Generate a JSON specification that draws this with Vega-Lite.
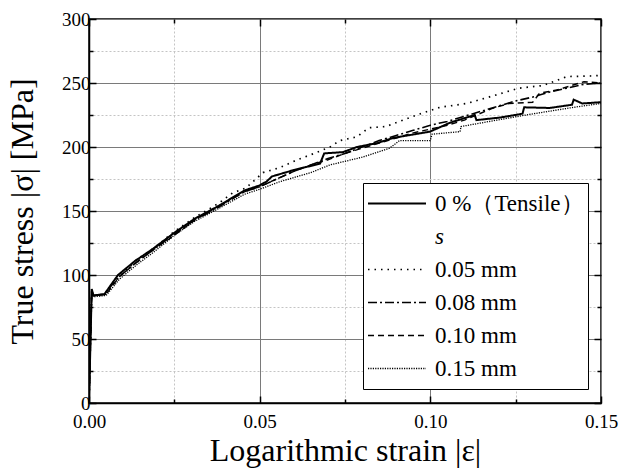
{
  "$schema": "https://vega.github.io/schema/vega-lite/v6.json",
  "autosize": "none",
  "width": 512,
  "height": 384,
  "padding": {"left": 89, "top": 19, "right": 32, "bottom": 67},
  "background": "white",
  "config": {
    "font": "Liberation Serif",
    "view": {"stroke": "black", "strokeWidth": 1.5},
    "axis": {"labelFont": "Liberation Serif", "titleFont": "Liberation Serif", "labelFontSize": 19, "titleFontSize": 32, "titleFontWeight": "normal", "labelColor": "black", "titleColor": "black", "domainColor": "black", "domainWidth": 1.5, "tickColor": "black", "tickWidth": 1.5},
    "legend": {"labelFont": "Liberation Serif"}
  },
  "data": {"values": [
    {"s": "0 %（Tensile）", "e": 0, "v": 0},
    {"s": "0 %（Tensile）", "e": 0.0008, "v": 89},
    {"s": "0 %（Tensile）", "e": 0.0013, "v": 84},
    {"s": "0 %（Tensile）", "e": 0.0045, "v": 85},
    {"s": "0 %（Tensile）", "e": 0.0085, "v": 100},
    {"s": "0 %（Tensile）", "e": 0.0135, "v": 111},
    {"s": "0 %（Tensile）", "e": 0.0185, "v": 120},
    {"s": "0 %（Tensile）", "e": 0.025, "v": 133},
    {"s": "0 %（Tensile）", "e": 0.031, "v": 144},
    {"s": "0 %（Tensile）", "e": 0.038, "v": 154},
    {"s": "0 %（Tensile）", "e": 0.0455, "v": 166},
    {"s": "0 %（Tensile）", "e": 0.05, "v": 170},
    {"s": "0 %（Tensile）", "e": 0.052, "v": 173},
    {"s": "0 %（Tensile）", "e": 0.0536, "v": 177},
    {"s": "0 %（Tensile）", "e": 0.06, "v": 182},
    {"s": "0 %（Tensile）", "e": 0.0677, "v": 187},
    {"s": "0 %（Tensile）", "e": 0.0689, "v": 195},
    {"s": "0 %（Tensile）", "e": 0.0744, "v": 196},
    {"s": "0 %（Tensile）", "e": 0.0785, "v": 200},
    {"s": "0 %（Tensile）", "e": 0.0844, "v": 203},
    {"s": "0 %（Tensile）", "e": 0.089, "v": 207},
    {"s": "0 %（Tensile）", "e": 0.0911, "v": 208},
    {"s": "0 %（Tensile）", "e": 0.0999, "v": 212},
    {"s": "0 %（Tensile）", "e": 0.1058, "v": 219},
    {"s": "0 %（Tensile）", "e": 0.113, "v": 225},
    {"s": "0 %（Tensile）", "e": 0.1135, "v": 221},
    {"s": "0 %（Tensile）", "e": 0.1204, "v": 223},
    {"s": "0 %（Tensile）", "e": 0.127, "v": 226},
    {"s": "0 %（Tensile）", "e": 0.1275, "v": 231},
    {"s": "0 %（Tensile）", "e": 0.135, "v": 230.5},
    {"s": "0 %（Tensile）", "e": 0.1415, "v": 233},
    {"s": "0 %（Tensile）", "e": 0.142, "v": 237},
    {"s": "0 %（Tensile）", "e": 0.1445, "v": 234},
    {"s": "0 %（Tensile）", "e": 0.15, "v": 235},

    {"s": "0.05 mm", "e": 0, "v": 0},
    {"s": "0.05 mm", "e": 0.0008, "v": 88},
    {"s": "0.05 mm", "e": 0.0013, "v": 84},
    {"s": "0.05 mm", "e": 0.0045, "v": 84},
    {"s": "0.05 mm", "e": 0.009, "v": 99},
    {"s": "0.05 mm", "e": 0.014, "v": 112},
    {"s": "0.05 mm", "e": 0.019, "v": 121},
    {"s": "0.05 mm", "e": 0.025, "v": 134},
    {"s": "0.05 mm", "e": 0.031, "v": 145},
    {"s": "0.05 mm", "e": 0.038, "v": 156},
    {"s": "0.05 mm", "e": 0.042, "v": 164},
    {"s": "0.05 mm", "e": 0.046, "v": 168},
    {"s": "0.05 mm", "e": 0.051, "v": 180},
    {"s": "0.05 mm", "e": 0.056, "v": 184},
    {"s": "0.05 mm", "e": 0.061, "v": 190},
    {"s": "0.05 mm", "e": 0.066, "v": 195},
    {"s": "0.05 mm", "e": 0.0706, "v": 200},
    {"s": "0.05 mm", "e": 0.0735, "v": 205},
    {"s": "0.05 mm", "e": 0.0785, "v": 208},
    {"s": "0.05 mm", "e": 0.082, "v": 215},
    {"s": "0.05 mm", "e": 0.087, "v": 216},
    {"s": "0.05 mm", "e": 0.092, "v": 221},
    {"s": "0.05 mm", "e": 0.096, "v": 225},
    {"s": "0.05 mm", "e": 0.1028, "v": 231},
    {"s": "0.05 mm", "e": 0.1107, "v": 234},
    {"s": "0.05 mm", "e": 0.1184, "v": 240},
    {"s": "0.05 mm", "e": 0.126, "v": 246},
    {"s": "0.05 mm", "e": 0.133, "v": 248},
    {"s": "0.05 mm", "e": 0.14, "v": 255},
    {"s": "0.05 mm", "e": 0.147, "v": 255.5},
    {"s": "0.05 mm", "e": 0.15, "v": 256},

    {"s": "0.08 mm", "e": 0, "v": 0},
    {"s": "0.08 mm", "e": 0.0008, "v": 88},
    {"s": "0.08 mm", "e": 0.0013, "v": 84},
    {"s": "0.08 mm", "e": 0.0045, "v": 85},
    {"s": "0.08 mm", "e": 0.0085, "v": 98},
    {"s": "0.08 mm", "e": 0.0135, "v": 109},
    {"s": "0.08 mm", "e": 0.0185, "v": 119},
    {"s": "0.08 mm", "e": 0.025, "v": 132},
    {"s": "0.08 mm", "e": 0.031, "v": 143},
    {"s": "0.08 mm", "e": 0.038, "v": 153},
    {"s": "0.08 mm", "e": 0.0455, "v": 165},
    {"s": "0.08 mm", "e": 0.05, "v": 169},
    {"s": "0.08 mm", "e": 0.055, "v": 175},
    {"s": "0.08 mm", "e": 0.06, "v": 181},
    {"s": "0.08 mm", "e": 0.065, "v": 186},
    {"s": "0.08 mm", "e": 0.07, "v": 191},
    {"s": "0.08 mm", "e": 0.075, "v": 195},
    {"s": "0.08 mm", "e": 0.08, "v": 200},
    {"s": "0.08 mm", "e": 0.085, "v": 205},
    {"s": "0.08 mm", "e": 0.09, "v": 209},
    {"s": "0.08 mm", "e": 0.095, "v": 213},
    {"s": "0.08 mm", "e": 0.1, "v": 217},
    {"s": "0.08 mm", "e": 0.105, "v": 220},
    {"s": "0.08 mm", "e": 0.11, "v": 224},
    {"s": "0.08 mm", "e": 0.115, "v": 228},
    {"s": "0.08 mm", "e": 0.12, "v": 232},
    {"s": "0.08 mm", "e": 0.125, "v": 236},
    {"s": "0.08 mm", "e": 0.13, "v": 239},
    {"s": "0.08 mm", "e": 0.135, "v": 243},
    {"s": "0.08 mm", "e": 0.14, "v": 246},
    {"s": "0.08 mm", "e": 0.145, "v": 249},
    {"s": "0.08 mm", "e": 0.15, "v": 250},

    {"s": "0.10 mm", "e": 0, "v": 0},
    {"s": "0.10 mm", "e": 0.0008, "v": 87},
    {"s": "0.10 mm", "e": 0.0013, "v": 84},
    {"s": "0.10 mm", "e": 0.005, "v": 85},
    {"s": "0.10 mm", "e": 0.009, "v": 99},
    {"s": "0.10 mm", "e": 0.014, "v": 110},
    {"s": "0.10 mm", "e": 0.019, "v": 120},
    {"s": "0.10 mm", "e": 0.025, "v": 131},
    {"s": "0.10 mm", "e": 0.031, "v": 143},
    {"s": "0.10 mm", "e": 0.038, "v": 154},
    {"s": "0.10 mm", "e": 0.0455, "v": 165},
    {"s": "0.10 mm", "e": 0.05, "v": 169},
    {"s": "0.10 mm", "e": 0.055, "v": 175},
    {"s": "0.10 mm", "e": 0.06, "v": 181},
    {"s": "0.10 mm", "e": 0.065, "v": 186},
    {"s": "0.10 mm", "e": 0.07, "v": 190},
    {"s": "0.10 mm", "e": 0.075, "v": 195},
    {"s": "0.10 mm", "e": 0.08, "v": 199},
    {"s": "0.10 mm", "e": 0.085, "v": 203},
    {"s": "0.10 mm", "e": 0.09, "v": 207},
    {"s": "0.10 mm", "e": 0.095, "v": 211},
    {"s": "0.10 mm", "e": 0.1, "v": 214},
    {"s": "0.10 mm", "e": 0.105, "v": 217},
    {"s": "0.10 mm", "e": 0.11, "v": 221},
    {"s": "0.10 mm", "e": 0.118, "v": 230},
    {"s": "0.10 mm", "e": 0.123, "v": 234},
    {"s": "0.10 mm", "e": 0.13, "v": 235},
    {"s": "0.10 mm", "e": 0.132, "v": 242},
    {"s": "0.10 mm", "e": 0.137, "v": 244.5},
    {"s": "0.10 mm", "e": 0.145, "v": 251},
    {"s": "0.10 mm", "e": 0.15, "v": 250},

    {"s": "0.15 mm", "e": 0, "v": 0},
    {"s": "0.15 mm", "e": 0.0008, "v": 87},
    {"s": "0.15 mm", "e": 0.0013, "v": 83},
    {"s": "0.15 mm", "e": 0.005, "v": 84},
    {"s": "0.15 mm", "e": 0.009, "v": 97},
    {"s": "0.15 mm", "e": 0.014, "v": 108},
    {"s": "0.15 mm", "e": 0.019, "v": 118},
    {"s": "0.15 mm", "e": 0.025, "v": 131},
    {"s": "0.15 mm", "e": 0.031, "v": 142},
    {"s": "0.15 mm", "e": 0.038, "v": 152},
    {"s": "0.15 mm", "e": 0.0455, "v": 163},
    {"s": "0.15 mm", "e": 0.05, "v": 167},
    {"s": "0.15 mm", "e": 0.056, "v": 173},
    {"s": "0.15 mm", "e": 0.065, "v": 180},
    {"s": "0.15 mm", "e": 0.0706, "v": 186},
    {"s": "0.15 mm", "e": 0.08, "v": 192},
    {"s": "0.15 mm", "e": 0.088, "v": 199},
    {"s": "0.15 mm", "e": 0.091, "v": 205},
    {"s": "0.15 mm", "e": 0.1, "v": 205},
    {"s": "0.15 mm", "e": 0.1005, "v": 210},
    {"s": "0.15 mm", "e": 0.1087, "v": 212},
    {"s": "0.15 mm", "e": 0.109, "v": 216},
    {"s": "0.15 mm", "e": 0.1195, "v": 221},
    {"s": "0.15 mm", "e": 0.128, "v": 225},
    {"s": "0.15 mm", "e": 0.142, "v": 231},
    {"s": "0.15 mm", "e": 0.15, "v": 234}
  ]},
  "resolve": {"axis": {"x": "independent", "y": "independent"}},
  "layer": [
    {
      "mark": {"type": "line", "color": "black", "clip": true},
      "encoding": {
        "x": {"field": "e", "type": "quantitative", "scale": {"domain": [0, 0.15], "nice": false},
          "axis": {"title": "Logarithmic strain |ε|", "values": [0, 0.025, 0.05, 0.075, 0.1, 0.125, 0.15],
            "labelExpr": "round(datum.value*1000) % 50 === 0 ? format(datum.value, '.2f') : ''",
            "grid": true,
            "gridColor": {"condition": {"test": "round(datum.value*1000) % 50 === 0", "value": "#7a7a7a"}, "value": "#c4c4c4"},
            "gridDash": {"condition": {"test": "round(datum.value*1000) % 50 === 0", "value": []}, "value": [2, 2]},
            "gridWidth": 1,
            "tickSize": {"condition": {"test": "round(datum.value*1000) % 50 === 0", "value": -7}, "value": -4},
            "labelPadding": 16, "titlePadding": 4, "labelFlush": false}},
        "y": {"field": "v", "type": "quantitative", "scale": {"domain": [0, 300], "nice": false},
          "axis": {"title": "True stress  |σ|  [MPa]", "values": [0, 25, 50, 75, 100, 125, 150, 175, 200, 225, 250, 275, 300],
            "labelExpr": "datum.value % 50 === 0 ? datum.label : ''",
            "grid": true,
            "gridColor": {"condition": {"test": "datum.value % 50 === 0", "value": "#7a7a7a"}, "value": "#c4c4c4"},
            "gridDash": {"condition": {"test": "datum.value % 50 === 0", "value": []}, "value": [2, 2]},
            "gridWidth": 1,
            "tickSize": {"condition": {"test": "datum.value % 50 === 0", "value": -7}, "value": -4},
            "labelPadding": 6, "titlePadding": 22, "labelFlush": false}},
        "strokeDash": {"field": "s", "type": "nominal",
          "scale": {"domain": ["0 %（Tensile）", "s", "0.05 mm", "0.08 mm", "0.10 mm", "0.15 mm"],
            "range": [[1, 0], [1, 0], [1.5, 5], [9, 3, 2, 3], [6, 4], [1.2, 1.2]]},
          "legend": {"title": null, "orient": "none", "legendX": 274, "legendY": 164,
            "symbolType": "stroke", "symbolSize": 3364, "symbolStrokeColor": "black", "symbolStrokeWidth": 1.3,
            "labelFontSize": 23, "labelColor": "black", "labelOffset": 8,
            "clipHeight": 33, "rowPadding": 0, "padding": 4,
            "fillColor": "white", "strokeColor": "black",
            "encode": {
              "labels": {"update": {"fontStyle": {"signal": "datum.value === 's' ? 'italic' : 'normal'"}}},
              "symbols": {"update": {"strokeOpacity": {"signal": "datum.value === 's' ? 0 : 1"}, "strokeWidth": {"signal": "datum.value === '0 %（Tensile）' ? 2 : 1.3"}}}
            }}},
        "strokeWidth": {"field": "s", "type": "nominal",
          "scale": {"domain": ["0 %（Tensile）", "s", "0.05 mm", "0.08 mm", "0.10 mm", "0.15 mm"], "range": [2, 1.3, 1.4, 1.4, 1.4, 1.2]},
          "legend": null}
      }
    },
    {
      "mark": {"type": "line", "opacity": 0},
      "encoding": {
        "x": {"field": "e", "type": "quantitative", "axis": {"orient": "top", "title": null, "labels": false, "grid": false, "domain": false, "values": [0, 0.025, 0.05, 0.075, 0.1, 0.125, 0.15],
          "tickSize": {"condition": {"test": "round(datum.value*1000) % 50 === 0", "value": -7}, "value": -4}}},
        "y": {"field": "v", "type": "quantitative", "axis": {"orient": "right", "title": null, "labels": false, "grid": false, "domain": false, "values": [0, 25, 50, 75, 100, 125, 150, 175, 200, 225, 250, 275, 300],
          "tickSize": {"condition": {"test": "datum.value % 50 === 0", "value": -7}, "value": -4}}},
        "detail": {"field": "s"}
      }
    }
  ]
}
